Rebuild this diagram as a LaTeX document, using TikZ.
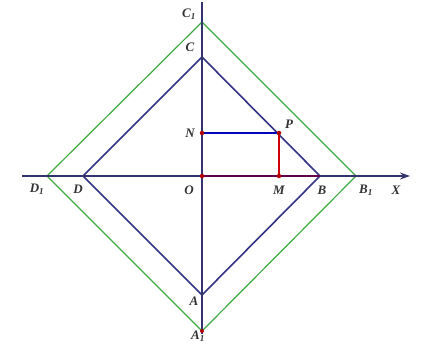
\documentclass[tikz,border=0pt]{standalone}
\usepackage{fontspec}
\setmainfont{Liberation Serif}
\usetikzlibrary{arrows.meta}
\begin{document}
\begin{tikzpicture}[x=1pt,y=-1pt,
  lbl/.style={font=\bfseries\itshape\fontsize{13}{14}\selectfont, text=black!80, inner sep=1pt},
  axis/.style={draw=black!70!blue!80, line width=1.3pt},
  inner/.style={draw=blue!40!black!80, line width=1.6pt},
  outer/.style={draw=green!55!black!75, line width=1.2pt},
  dot/.style={circle, fill=red!70!black, inner sep=0pt, minimum size=4.5pt}]
\useasboundingbox (0,0) rectangle (426,345);
% points
\coordinate (O) at (202,176);
\coordinate (C1) at (202,22);
\coordinate (C) at (202,57);
\coordinate (B) at (320,176);
\coordinate (B1) at (356,176);
\coordinate (D) at (83,176);
\coordinate (D1) at (47,176);
\coordinate (A) at (202,295);
\coordinate (A1) at (202,331);
\coordinate (P) at (279,133);
\coordinate (N) at (202,133);
\coordinate (M) at (279,176);
\coordinate (xl) at (22,176);
\coordinate (xr) at (410,176);
\coordinate (yt) at (202,2);
\coordinate (yb) at (202,334);
% squares
\draw[outer] (C1) -- (B1) -- (A1) -- (D1) -- cycle;
\draw[inner] (C) -- (B) -- (A) -- (D) -- cycle;
% axes
\draw[axis, -{Stealth[length=10pt,width=7pt]}] (xl) -- (xr);
\draw[axis] (yt) -- (yb);
% colored segments
\draw[draw=red!55!blue!70!black, line width=1.4pt] (O) -- (B);
\draw[draw=blue!75!black, line width=1.4pt] (N) -- (P);
\draw[draw=red!80!black, line width=1.4pt] (P) -- (M);
% dots
\node[dot] (dO) at (O) {};
\node[dot] (dN) at (N) {};
\node[dot] (dP) at (P) {};
\node[dot] (dM) at (M) {};
\node[dot, minimum size=4pt] (dA1) at (A1) {};
% labels
\node[lbl] (lC1) at (189,14) {C\textsubscript{1}};
\node[lbl] (lC) at (190,47) {C};
\node[lbl] (lN) at (190,133) {N};
\node[lbl] (lP) at (289,124) {P};
\node[lbl] (lO) at (189,190) {O};
\node[lbl] (lM) at (279,190) {M};
\node[lbl] (lB) at (322,190) {B};
\node[lbl] (lB1) at (366,190) {B\textsubscript{1}};
\node[lbl] (lX) at (396,190) {X};
\node[lbl] (lD1) at (37,189) {D\textsubscript{1}};
\node[lbl] (lD) at (78,189) {D};
\node[lbl] (lA) at (194,301) {A};
\node[lbl] (lA1) at (198,336) {A\textsubscript{1}};
\end{tikzpicture}
\end{document}
